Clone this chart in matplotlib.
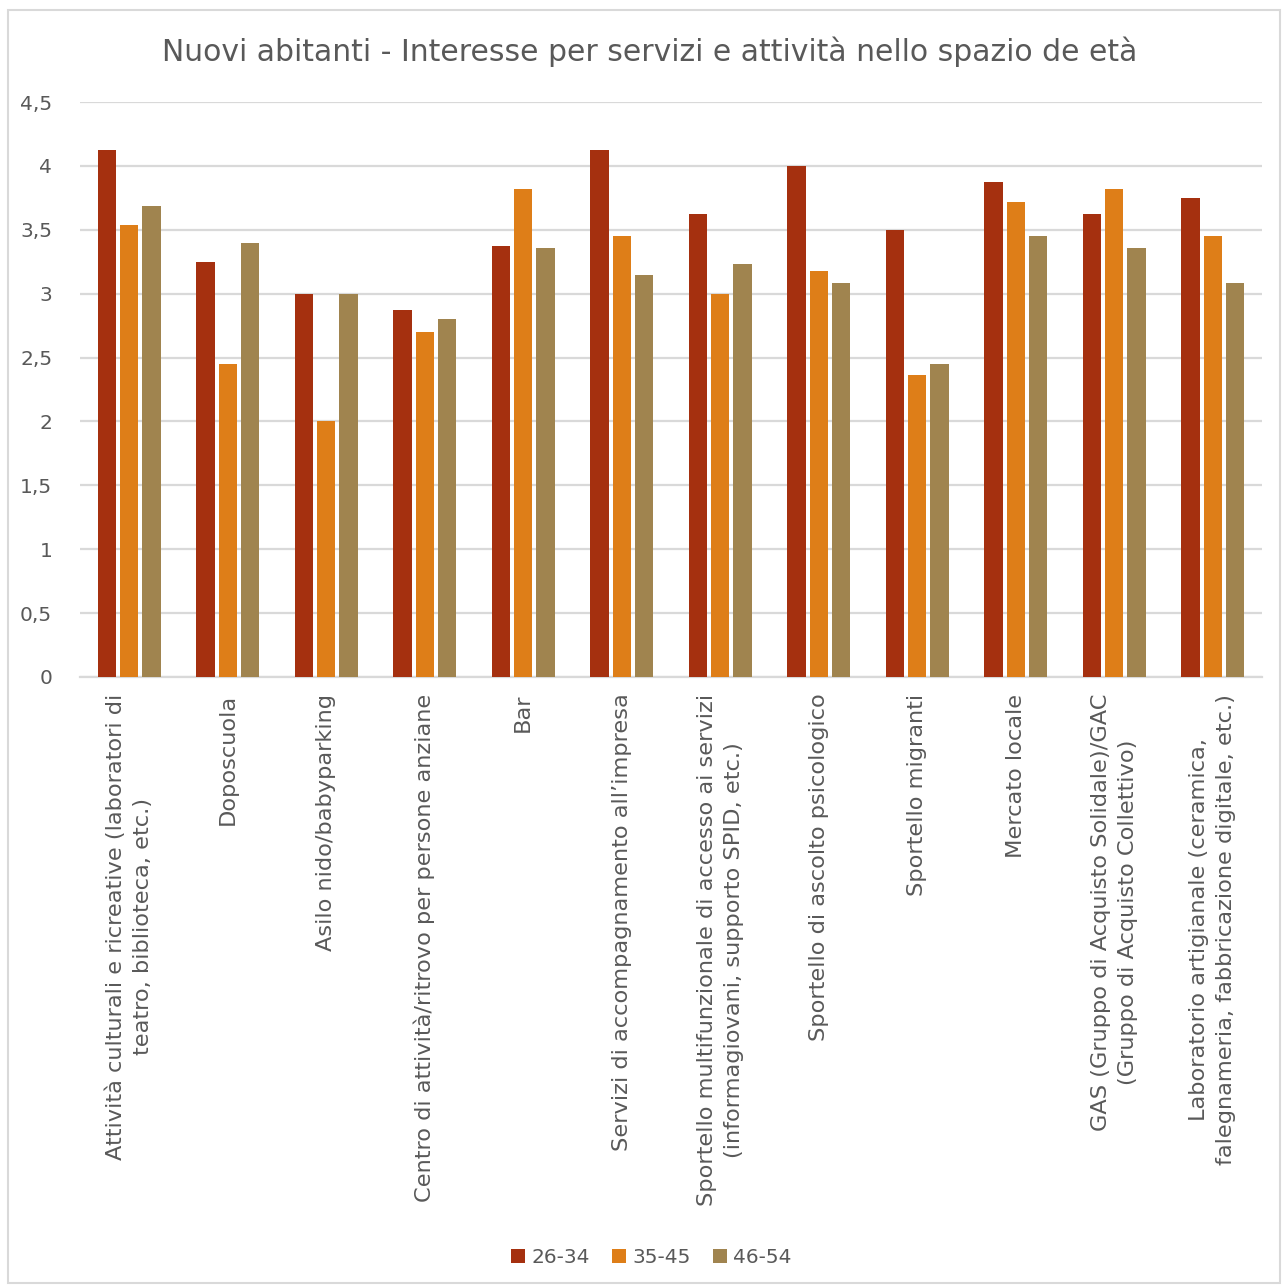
import numpy as np
import matplotlib.pyplot as plt
from matplotlib.patches import Rectangle

# %%
# Data
categories = [
    "Attività culturali e ricreative (laboratori di\nteatro, biblioteca, etc.)",
    "Doposcuola",
    "Asilo nido/babyparking",
    "Centro di attività/ritrovo per persone anziane",
    "Bar",
    "Servizi di accompagnamento all’impresa",
    "Sportello multifunzionale di accesso ai servizi\n(informagiovani, supporto SPID, etc.)",
    "Sportello di ascolto psicologico",
    "Sportello migranti",
    "Mercato locale",
    "GAS (Gruppo di Acquisto Solidale)/GAC\n(Gruppo di Acquisto Collettivo)",
    "Laboratorio artigianale (ceramica,\nfalegnameria, fabbricazione digitale, etc.)",
]
age_26_34 = [4.125, 3.25, 3.0, 2.875, 3.375, 4.125, 3.625, 4.0, 3.5, 3.875, 3.625, 3.75]
age_35_45 = [3.54, 2.45, 2.0, 2.7, 3.82, 3.45, 3.0, 3.18, 2.36, 3.72, 3.82, 3.45]
age_46_54 = [3.69, 3.4, 3.0, 2.8, 3.36, 3.15, 3.23, 3.08, 2.45, 3.45, 3.36, 3.08]
series_labels = ["26-34", "35-45", "46-54"]
colors = ["#A5300F", "#DE7E18", "#A0844F"]
yticks = [0, 0.5, 1, 1.5, 2, 2.5, 3, 3.5, 4, 4.5]

# %%
text_col = "#595959"
fig = plt.figure(figsize=(12.82, 12.87), dpi=100)
ax = fig.add_axes([0.0624, 0.474, 0.922, 0.4467])

x = np.arange(len(categories))
w = 0.185
for i, (vals, lab, col) in enumerate(zip([age_26_34, age_35_45, age_46_54], series_labels, colors)):
    ax.bar(x + (i - 1) * 0.225, vals, width=w, color=col, label=lab, zorder=3)

ax.set_xlim(-0.5, len(categories) - 0.5)
ax.set_ylim(0, 4.5)
ax.set_yticks(yticks)
ax.set_yticklabels([str(t).replace(".", ",").replace(",0", "") for t in yticks],
                   fontsize=14.5, color=text_col)
ax.set_xticks(x)
ax.set_xticklabels(categories, rotation=90, fontsize=16.2, color=text_col,
                   va="top", ha="center", multialignment="center", linespacing=1.45)
ax.tick_params(axis="both", length=0)
ax.tick_params(axis="y", pad=20)
ax.tick_params(axis="x", pad=12)
ax.grid(axis="y", color="#D9D9D9", lw=1.6, zorder=0)
for s in ["left", "right", "top"]:
    ax.spines[s].set_visible(False)
ax.spines["bottom"].set_color("#D9D9D9")
ax.spines["bottom"].set_linewidth(1.6)

fig.text(650 / 1282, 1 - 52 / 1287,
         "Nuovi abitanti - Interesse per servizi e attività nello spazio de età",
         fontsize=21.5, color=text_col, ha="center", va="center")

fig.legend(loc="center", bbox_to_anchor=(0.508, 0.023), ncol=3, frameon=False,
           fontsize=14.5, labelcolor=text_col, handlelength=0.7, handleheight=0.7,
           handletextpad=0.3, columnspacing=1.1)

# outer chart border
fig.patches.append(Rectangle((8 / 1282, 4 / 1287), 1272 / 1282, 1273 / 1287,
                             transform=fig.transFigure, fill=False,
                             edgecolor="#D9D9D9", lw=1.5))

fig.savefig("out.png", dpi=100)
